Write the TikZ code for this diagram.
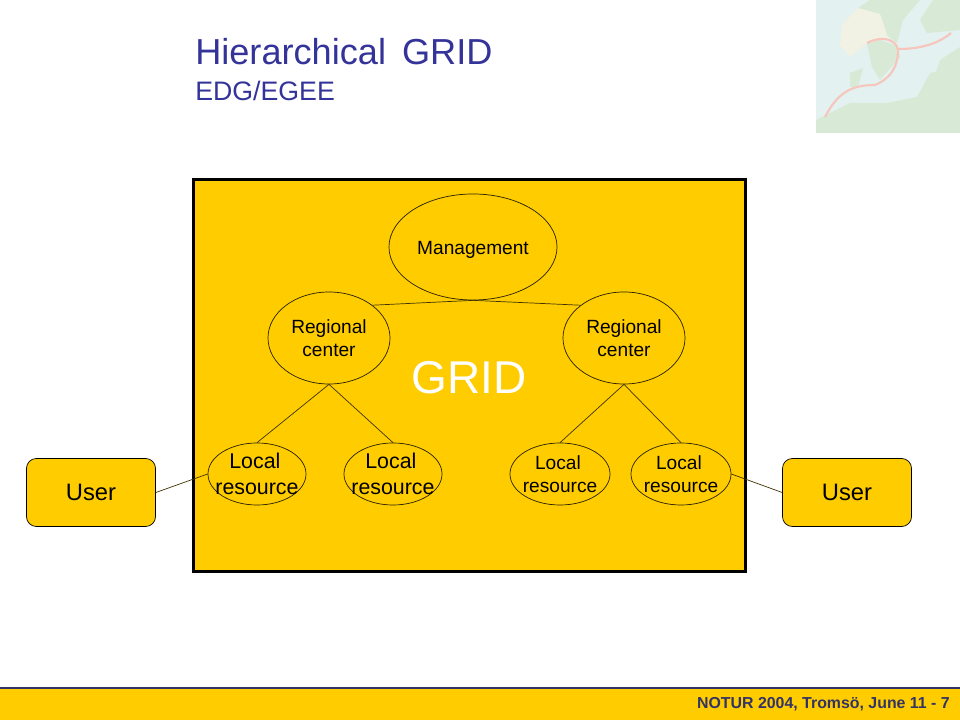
\documentclass[tikz,border=0pt]{standalone}
\usepackage{fontspec}
\setmainfont{Liberation Sans}
\usetikzlibrary{shapes.geometric}
\definecolor{gridyellow}{HTML}{FFCC00}
\definecolor{titleblue}{HTML}{333399}
\definecolor{footerblue}{HTML}{333366}
\definecolor{mapsea}{HTML}{E3F1F0}
\definecolor{mapland}{HTML}{D8EAD5}
\definecolor{mapnorth}{HTML}{F1F2E3}
\definecolor{maproute}{HTML}{F6C6BC}
\begin{document}
\begin{tikzpicture}[x=0.025cm,y=-0.025cm,
  oval/.style={ellipse,draw=black!85!gridyellow,line width=0.5pt,fill=gridyellow,inner sep=0pt},
  userbox/.style={rectangle,rounded corners=7pt,draw=black,line width=0.5pt,fill=gridyellow,minimum width=3.225cm,minimum height=1.7cm,font=\fontsize{16.9}{20}\selectfont},
  link/.style={draw=black!75!gridyellow,line width=0.5pt},
  bigtext/.style={label={[align=center,font=\fontsize{15.2}{18.2}\selectfont]center:#1}},
  smalltext/.style={label={[align=center,font=\fontsize{13.6}{16.4}\selectfont]center:#1}}]
\useasboundingbox (0,0) rectangle (960,720);

%.... Map in the corner:
\begin{scope}
\clip (816,0) rectangle (960,133);
\fill[mapsea] (816,0) rectangle (960,133);
\fill[mapland] (858,8) -- (870,0) -- (920,0) -- (903,20) -- (897,43) -- (880,30) -- cycle;
\fill[mapnorth] (840,45) -- (842,25) -- (858,8) -- (880,14) -- (888,38) -- (867,43) -- (850,57) -- cycle;
\fill[mapland] (867,43) -- (880,40) -- (897,46) -- (900,57) -- (880,80) -- (872,67) -- cycle;
\fill[mapland] (920,20) -- (933,0) -- (960,0) -- (960,30) -- (927,33) -- cycle;
\fill[mapland] (940,60) -- (960,47) -- (960,70) -- (935,75) -- cycle;
\fill[mapland] (850,73) -- (863,68) -- (858,87) -- (850,87) -- cycle;
\fill[mapland] (816,120) -- (850,103) -- (887,103) -- (917,97) -- (930,73) -- (960,67) -- (960,133) -- (816,133) -- cycle;
\draw[maproute,line width=1.5pt] (825,117) .. controls (838,92) and (852,85) .. (875,85) .. controls (892,78) and (898,65) .. (898,50) .. controls (896,38) and (880,36) .. (867,43);
\draw[maproute,line width=1.5pt] (898,49) .. controls (920,49) and (938,44) .. (951,33);
\end{scope}

\node[anchor=base west,inner sep=0pt,text=titleblue,font=\fontsize{25.7}{30}\selectfont] (title) at (195,65) {Hierarchical\, GRID};
\node[anchor=base west,inner sep=0pt,text=titleblue,font=\fontsize{19}{23}\selectfont] (subtitle) at (195,100.5) {EDG/EGEE};

\draw[black,line width=1.9pt,fill=gridyellow] (193.7,179.5) rectangle (745.5,571.8);
\node[text=white,font=\fontsize{32.7}{39}\selectfont] (gridlabel) at (469,378) {GRID};

\node[oval,font=\fontsize{13.6}{16.4}\selectfont,text height=13pt,text depth=3pt,minimum width=4.2cm,minimum height=2.65cm] (management) at (473,247) {Management};
\node[oval,smalltext={Regional\\center},minimum width=3.05cm,minimum height=2.3cm] (regionA) at (329,338) {};
\node[oval,smalltext={Regional\\center},minimum width=3.05cm,minimum height=2.3cm] (regionB) at (624,338) {};
\node[oval,bigtext={Local\hspace*{3pt}\\resource},minimum width=2.45cm,minimum height=1.55cm] (localA) at (257,474) {};
\node[oval,bigtext={Local\hspace*{3pt}\\resource},minimum width=2.45cm,minimum height=1.55cm] (localB) at (393,474) {};
\node[oval,smalltext={Local\hspace*{3pt}\\resource},minimum width=2.5cm,minimum height=1.55cm] (localC) at (560,474) {};
\node[oval,smalltext={Local\hspace*{3pt}\\resource},minimum width=2.5cm,minimum height=1.55cm] (localD) at (681,474) {};
\node[userbox] (userA) at (91,492.5) {User};
\node[userbox] (userB) at (847,492.5) {User};

\draw[link] (management.south) -- (regionA.north east);
\draw[link] (management.south) -- (regionB.north west);
\draw[link] (regionA.south) -- (localA.north);
\draw[link] (regionA.south) -- (localB.north);
\draw[link] (regionB.south) -- (localC.north);
\draw[link] (regionB.south) -- (localD.north);
\draw[link] (userA.east) -- (localA.west);
\draw[link] (userB.west) -- (localD.east);

%.... Footer:
\fill[gridyellow] (0,688) rectangle (960,720);
\draw[footerblue,line width=1.3pt] (0,688) -- (960,688);
\node[anchor=east,inner sep=0pt,text=footerblue,font=\bfseries\fontsize{11.3}{14}\selectfont] (footer) at (950,704) {NOTUR 2004, Tromsö, June 11 - 7};
\end{tikzpicture}
\end{document}
